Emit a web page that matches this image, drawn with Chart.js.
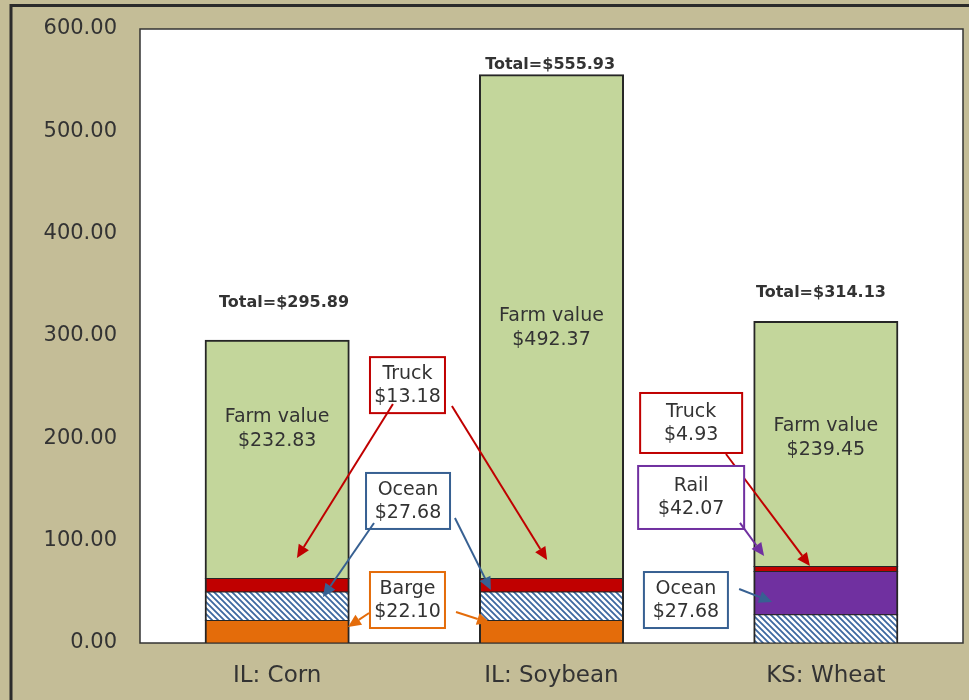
<!DOCTYPE html>
<html>
<head>
<meta charset="utf-8">
<script src="https://cdn.jsdelivr.net/npm/chart.js@4.4.1/dist/chart.umd.min.js"></script>
<style>
html, body { margin: 0; padding: 0; background: #c4bd97; }
#wrap { width: 969px; height: 700px; }
</style>
</head>
<body>
<div id="wrap"><canvas id="chart"></canvas></div>
<script>
// Cost of moving grain: farm value + transport legs
const categories = ['IL: Corn', 'IL: Soybean', 'KS: Wheat'];
const bargeCost = [22.10, 22.10, null];
const oceanCost = [27.68, 27.68, 27.68];
const railCost = [null, null, 42.07];
const truckCost = [13.18, 13.18, 4.93];
const farmValue = [232.83, 492.37, 239.45];
const totals = [295.89, 555.93, 314.13];
const yTicks = [0, 100, 200, 300, 400, 500, 600];

const RED = '#c00000';
const BLUE = '#376092';
const ORANGE = '#e46c0a';
const PURPLE = '#7030a0';
const GREEN = '#c3d69b';
const INK = '#333333';
const FONT = '"DejaVu Sans", sans-serif';

const money = v => '$' + v.toFixed(2);

// callout boxes: centre in (category index, value), arrows as [fromIdx, fromVal, toIdx, toVal]
const callouts = [
    { title: 'Truck', value: truckCost[0], color: RED, at: [0.475, 252], size: [75, 56],
      arrows: [[0.422, 233.5, 0.072, 83], [0.637, 231.6, 0.984, 81]] },
    { title: 'Ocean', value: oceanCost[0], color: BLUE, at: [0.477, 138.8], size: [84, 56],
      arrows: [[0.353, 117.3, 0.167, 45], [0.648, 122.1, 0.779, 51.8]] },
    { title: 'Barge', value: bargeCost[0], color: ORANGE, at: [0.475, 42], size: [75, 56],
      arrows: [[0.335, 29.3, 0.258, 15.6], [0.652, 30.3, 0.776, 19.5]] },
    { title: 'Truck', value: truckCost[2], color: RED, at: [1.509, 215], size: [102, 60],
      arrows: [[1.636, 184.7, 1.942, 75.2]] },
    { title: 'Rail', value: railCost[2], color: PURPLE, at: [1.509, 142.2], size: [106, 63],
      arrows: [[1.687, 117.3, 1.775, 85]] },
    { title: 'Ocean', value: oceanCost[2], color: BLUE, at: [1.49, 42], size: [84, 56],
      arrows: [[1.684, 52.8, 1.804, 40.1]] },
];

// label spots inside the green segments and above the bars
const farmLabelAt = [[0, 209.1], [1, 307.8], [2, 200.3]];
const totalLabelAt = [[0.025, 332.3], [0.995, 564.8], [1.982, 342]];

function makeHatch() {
    const c = document.createElement('canvas');
    c.width = 6; c.height = 6;
    const g = c.getContext('2d');
    g.fillStyle = '#ffffff';
    g.fillRect(0, 0, 6, 6);
    g.strokeStyle = '#3d68a0';
    g.lineWidth = 1.8;
    g.beginPath();
    for (let k = -1; k <= 1; k++) {
        g.moveTo(-1, -1 + 6 * k);
        g.lineTo(7, 7 + 6 * k);
    }
    g.stroke();
    return g.createPattern(c, 'repeat');
}

function drawArrow(ctx, x1, y1, x2, y2, color) {
    const ang = Math.atan2(y2 - y1, x2 - x1);
    const len = 13, half = 6;
    const bx = x2 - len * Math.cos(ang), by = y2 - len * Math.sin(ang);
    ctx.strokeStyle = color;
    ctx.fillStyle = color;
    ctx.lineWidth = 2;
    ctx.beginPath();
    ctx.moveTo(x1, y1);
    ctx.lineTo(bx, by);
    ctx.stroke();
    ctx.beginPath();
    ctx.moveTo(x2, y2);
    ctx.lineTo(bx + half * Math.sin(ang), by - half * Math.cos(ang));
    ctx.lineTo(bx - half * Math.sin(ang), by + half * Math.cos(ang));
    ctx.closePath();
    ctx.fill();
}

const framePlugin = {
    id: 'frame',
    beforeDraw(chart) {
        const { ctx, chartArea: a } = chart;
        ctx.save();
        ctx.fillStyle = '#c4bd97';
        ctx.fillRect(0, 0, chart.width, chart.height);
        ctx.strokeStyle = '#2b2b2b';
        ctx.lineWidth = 3;
        ctx.strokeRect(11, 5.5, chart.width + 20, chart.height + 20);
        ctx.fillStyle = '#ffffff';
        ctx.fillRect(a.left, a.top, a.right - a.left, a.bottom - a.top);
        ctx.strokeStyle = INK;
        ctx.lineWidth = 1.5;
        ctx.strokeRect(a.left, a.top, a.right - a.left, a.bottom - a.top);
        ctx.restore();
    },
    afterDatasetsDraw(chart) {
        const { ctx } = chart;
        const xs = chart.scales.x, ys = chart.scales.y;
        const px = i => xs.getPixelForValue(i);
        const py = v => ys.getPixelForValue(v);
        ctx.save();
        ctx.textAlign = 'center';
        ctx.textBaseline = 'middle';

        // farm value labels
        ctx.fillStyle = INK;
        ctx.font = '19px ' + FONT;
        farmLabelAt.forEach(([i, v], k) => {
            ctx.fillText('Farm value', px(i), py(v) - 12);
            ctx.fillText(money(farmValue[k]), px(i), py(v) + 12);
        });

        // totals
        ctx.font = 'bold 16px ' + FONT;
        totalLabelAt.forEach(([i, v], k) => {
            ctx.fillText('Total=' + money(totals[k]), px(i), py(v));
        });

        // callouts
        callouts.forEach(c => {
            const cx = px(c.at[0]), cy = py(c.at[1]);
            const [w, h] = c.size;
            ctx.fillStyle = '#ffffff';
            ctx.fillRect(cx - w / 2, cy - h / 2, w, h);
            ctx.strokeStyle = c.color;
            ctx.lineWidth = 2;
            ctx.strokeRect(cx - w / 2, cy - h / 2, w, h);
            ctx.fillStyle = INK;
            ctx.font = '19px ' + FONT;
            ctx.fillText(c.title, cx, cy - 11);
            ctx.fillText(money(c.value), cx, cy + 12);
            c.arrows.forEach(([i1, v1, i2, v2]) => {
                drawArrow(ctx, px(i1), py(v1), px(i2), py(v2), c.color);
            });
        });
        ctx.restore();
    }
};

const hatch = makeHatch();
const barStyle = {
    borderColor: '#262626',
    borderWidth: { top: 1, bottom: 1, left: 2, right: 2 },
    borderSkipped: false,
    inflateAmount: 0.5,
    categoryPercentage: 1,
    barPercentage: 0.525,
};

new Chart(document.getElementById('chart'), {
    type: 'bar',
    data: {
        labels: categories,
        datasets: [
            { label: 'Barge', data: bargeCost, backgroundColor: ORANGE, ...barStyle },
            { label: 'Ocean', data: oceanCost, backgroundColor: hatch, ...barStyle },
            { label: 'Rail', data: railCost, backgroundColor: PURPLE, ...barStyle },
            { label: 'Truck', data: truckCost, backgroundColor: RED, ...barStyle },
            { label: 'Farm value', data: farmValue, backgroundColor: GREEN, ...barStyle,
              borderWidth: { top: 2, bottom: 1, left: 2, right: 2 } },
        ],
    },
    options: {
        responsive: true,
        maintainAspectRatio: false,
        animation: false,
        layout: { padding: { left: 0, top: 29, right: 6, bottom: 0 } },
        plugins: {
            legend: { display: false },
            tooltip: { enabled: false },
        },
        scales: {
            x: {
                stacked: true,
                grid: { display: false, drawTicks: false },
                border: { display: false },
                ticks: { color: INK, font: { family: FONT, size: 23 }, padding: 19 },
                afterFit: s => { s.height = 57; },
            },
            y: {
                stacked: true,
                min: yTicks[0],
                max: yTicks[yTicks.length - 1],
                afterBuildTicks: s => { s.ticks = yTicks.map(v => ({ value: v })); },
                grid: { display: false, drawTicks: false },
                border: { display: false },
                ticks: {
                    color: INK,
                    font: { family: FONT, size: 21 },
                    padding: 23,
                    callback: v => v.toFixed(2),
                },
                afterFit: s => {
                    s.width = 140;
                    // tick padding is horizontal here; keep it out of the top/bottom overflow
                    s.paddingTop = 13;
                    s.paddingBottom = 13;
                },
            },
        },
    },
    plugins: [framePlugin],
});
</script>
</body>
</html>
